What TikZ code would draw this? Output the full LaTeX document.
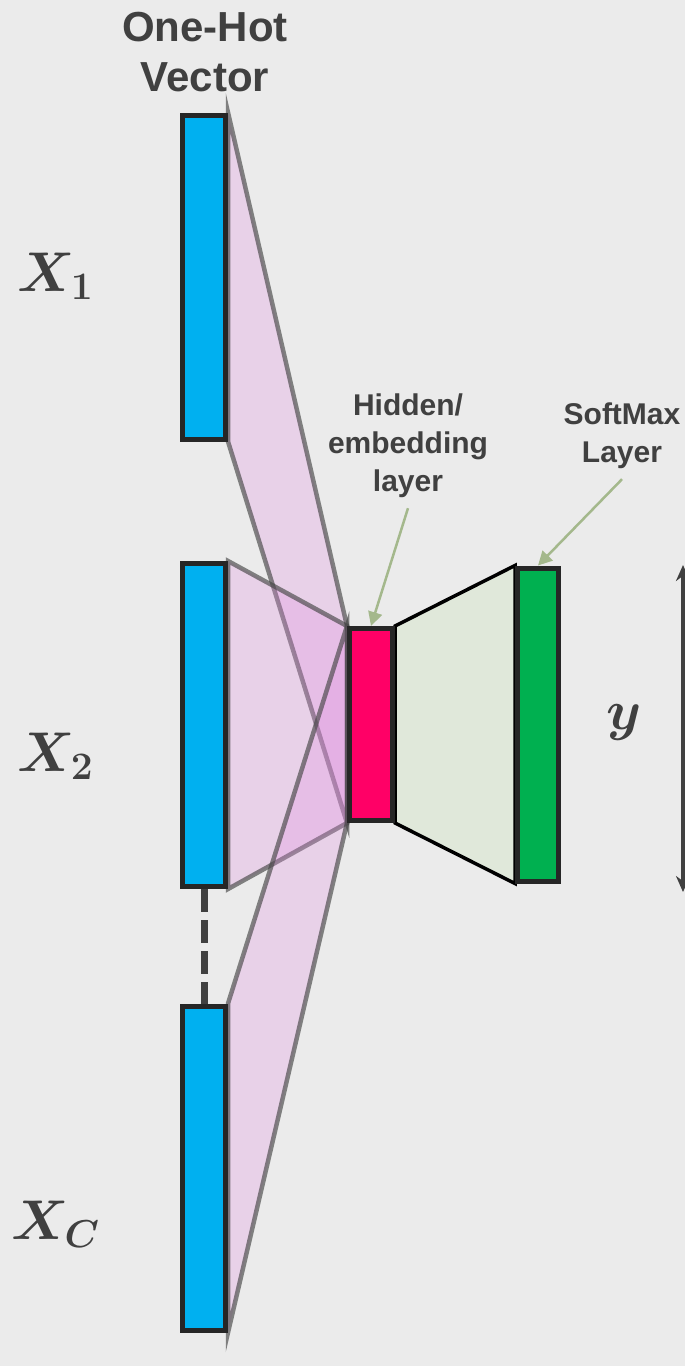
\documentclass[tikz,border=0pt]{standalone}
\usepackage{fontspec}
\setmainfont{Liberation Sans}
\usepackage{bm}
\usetikzlibrary{arrows.meta, positioning, backgrounds}
\definecolor{bgcol}{HTML}{EBEBEB}
\definecolor{txtgray}{HTML}{404040}
\definecolor{barblue}{HTML}{00B0F0}
\definecolor{hidpink}{HTML}{FF0066}
\definecolor{softgreen}{HTML}{00B050}
\definecolor{fangreen}{HTML}{E0E8DA}
\definecolor{fanpink}{RGB}{225,140,225}
\definecolor{pointcol}{RGB}{164,184,140}
\newcommand{\biglbl}[1]{\scalebox{2.7}{$\bm{#1}$}}
\tikzset{
	layerbar/.style={draw={rgb,255:red,38;green,38;blue,38}, line width=5pt, minimum width=43pt, inner sep=0pt}
}
\tikzset{
	fan/.style={draw={rgb,255:red,70;green,70;blue,70}, draw opacity=0.65, line width=4.5pt, fill=fanpink, fill opacity=0.27}
}
\tikzset{
	boldlabel/.style={font=\fontsize{30}{38}\selectfont\bfseries, text=txtgray, align=center, inner sep=0pt},
	mathlabel/.style={font=\huge, text=txtgray, inner sep=0pt},
	pointer/.style={draw=pointcol, line width=2.5pt, -{Triangle[length=14pt,width=14pt]}}
}

\begin{document}
\begin{tikzpicture}[>=stealth, x=1pt, y=-1pt]
      \useasboundingbox (0,0) rectangle (685,1366);
      % input bars
      \node[layerbar, fill=barblue, minimum height=324pt] (x1) at (204,277) {};
      \node[layerbar, fill=barblue, minimum height=323pt] (x2) at (204,725) {};
      \node[layerbar, fill=barblue, minimum height=324pt] (xc) at (204,1168) {};
      \node[layerbar, fill=hidpink, minimum height=192pt] (hid) at (371,724.5) {};
      \node[layerbar, fill=softgreen, minimum height=313pt, minimum width=41pt] (soft) at (538,724.5) {};
      % labels
      \node[boldlabel, font=\fontsize{42}{50}\selectfont\bfseries] (onehot) at (205,52) {One-Hot\\Vector};
      \node[boldlabel] (hidlbl) at (408,446) {Hidden/\\embedding\\layer};
      \node[boldlabel] (softlbl) at (622,436) {SoftMax\\Layer};
      \node[mathlabel] (lx1) at (56,276) {\biglbl{X_1}};
      \node[mathlabel] (lx2) at (56,756) {\biglbl{X_2}};
      \node[mathlabel] (lxc) at (56,1224) {\biglbl{X_C}};
      \node[mathlabel] (ly) at (624,722) {\biglbl{y}};
      \draw[pointer] (hidlbl.south) ++(0,10) -- (hid.north);
      \draw[pointer] (softlbl.south) ++(0,10) -- (soft.north);
      % output arrow
      \coordinate (ytop) at (683,565);
      \coordinate (ybot) at (683,892);
      \draw[txtgray, line width=4pt, {Stealth[length=16pt,width=14pt]}-{Stealth[length=16pt,width=14pt]}] (ytop) -- (ybot);
      \draw[txtgray, line width=7pt, dash pattern=on 23pt off 8pt] (x2.south) -- (xc.north);
      \begin{scope}[on background layer]
        \fill[bgcol] (0,0) rectangle (685,1366);
        \draw[fan] (x1.north east) -- (hid.north west) -- (hid.south west) -- (x1.south east) -- cycle;
        \draw[fan] (x2.north east) -- (hid.north west) -- (hid.south west) -- (x2.south east) -- cycle;
        \draw[fan] (xc.north east) -- (hid.north west) -- (hid.south west) -- (xc.south east) -- cycle;
        \draw[line width=3.5pt, fill=fangreen] (hid.north east) -- (soft.north west) -- (soft.south west) -- (hid.south east) -- cycle;
      \end{scope}
    \end{tikzpicture}
\end{document}
